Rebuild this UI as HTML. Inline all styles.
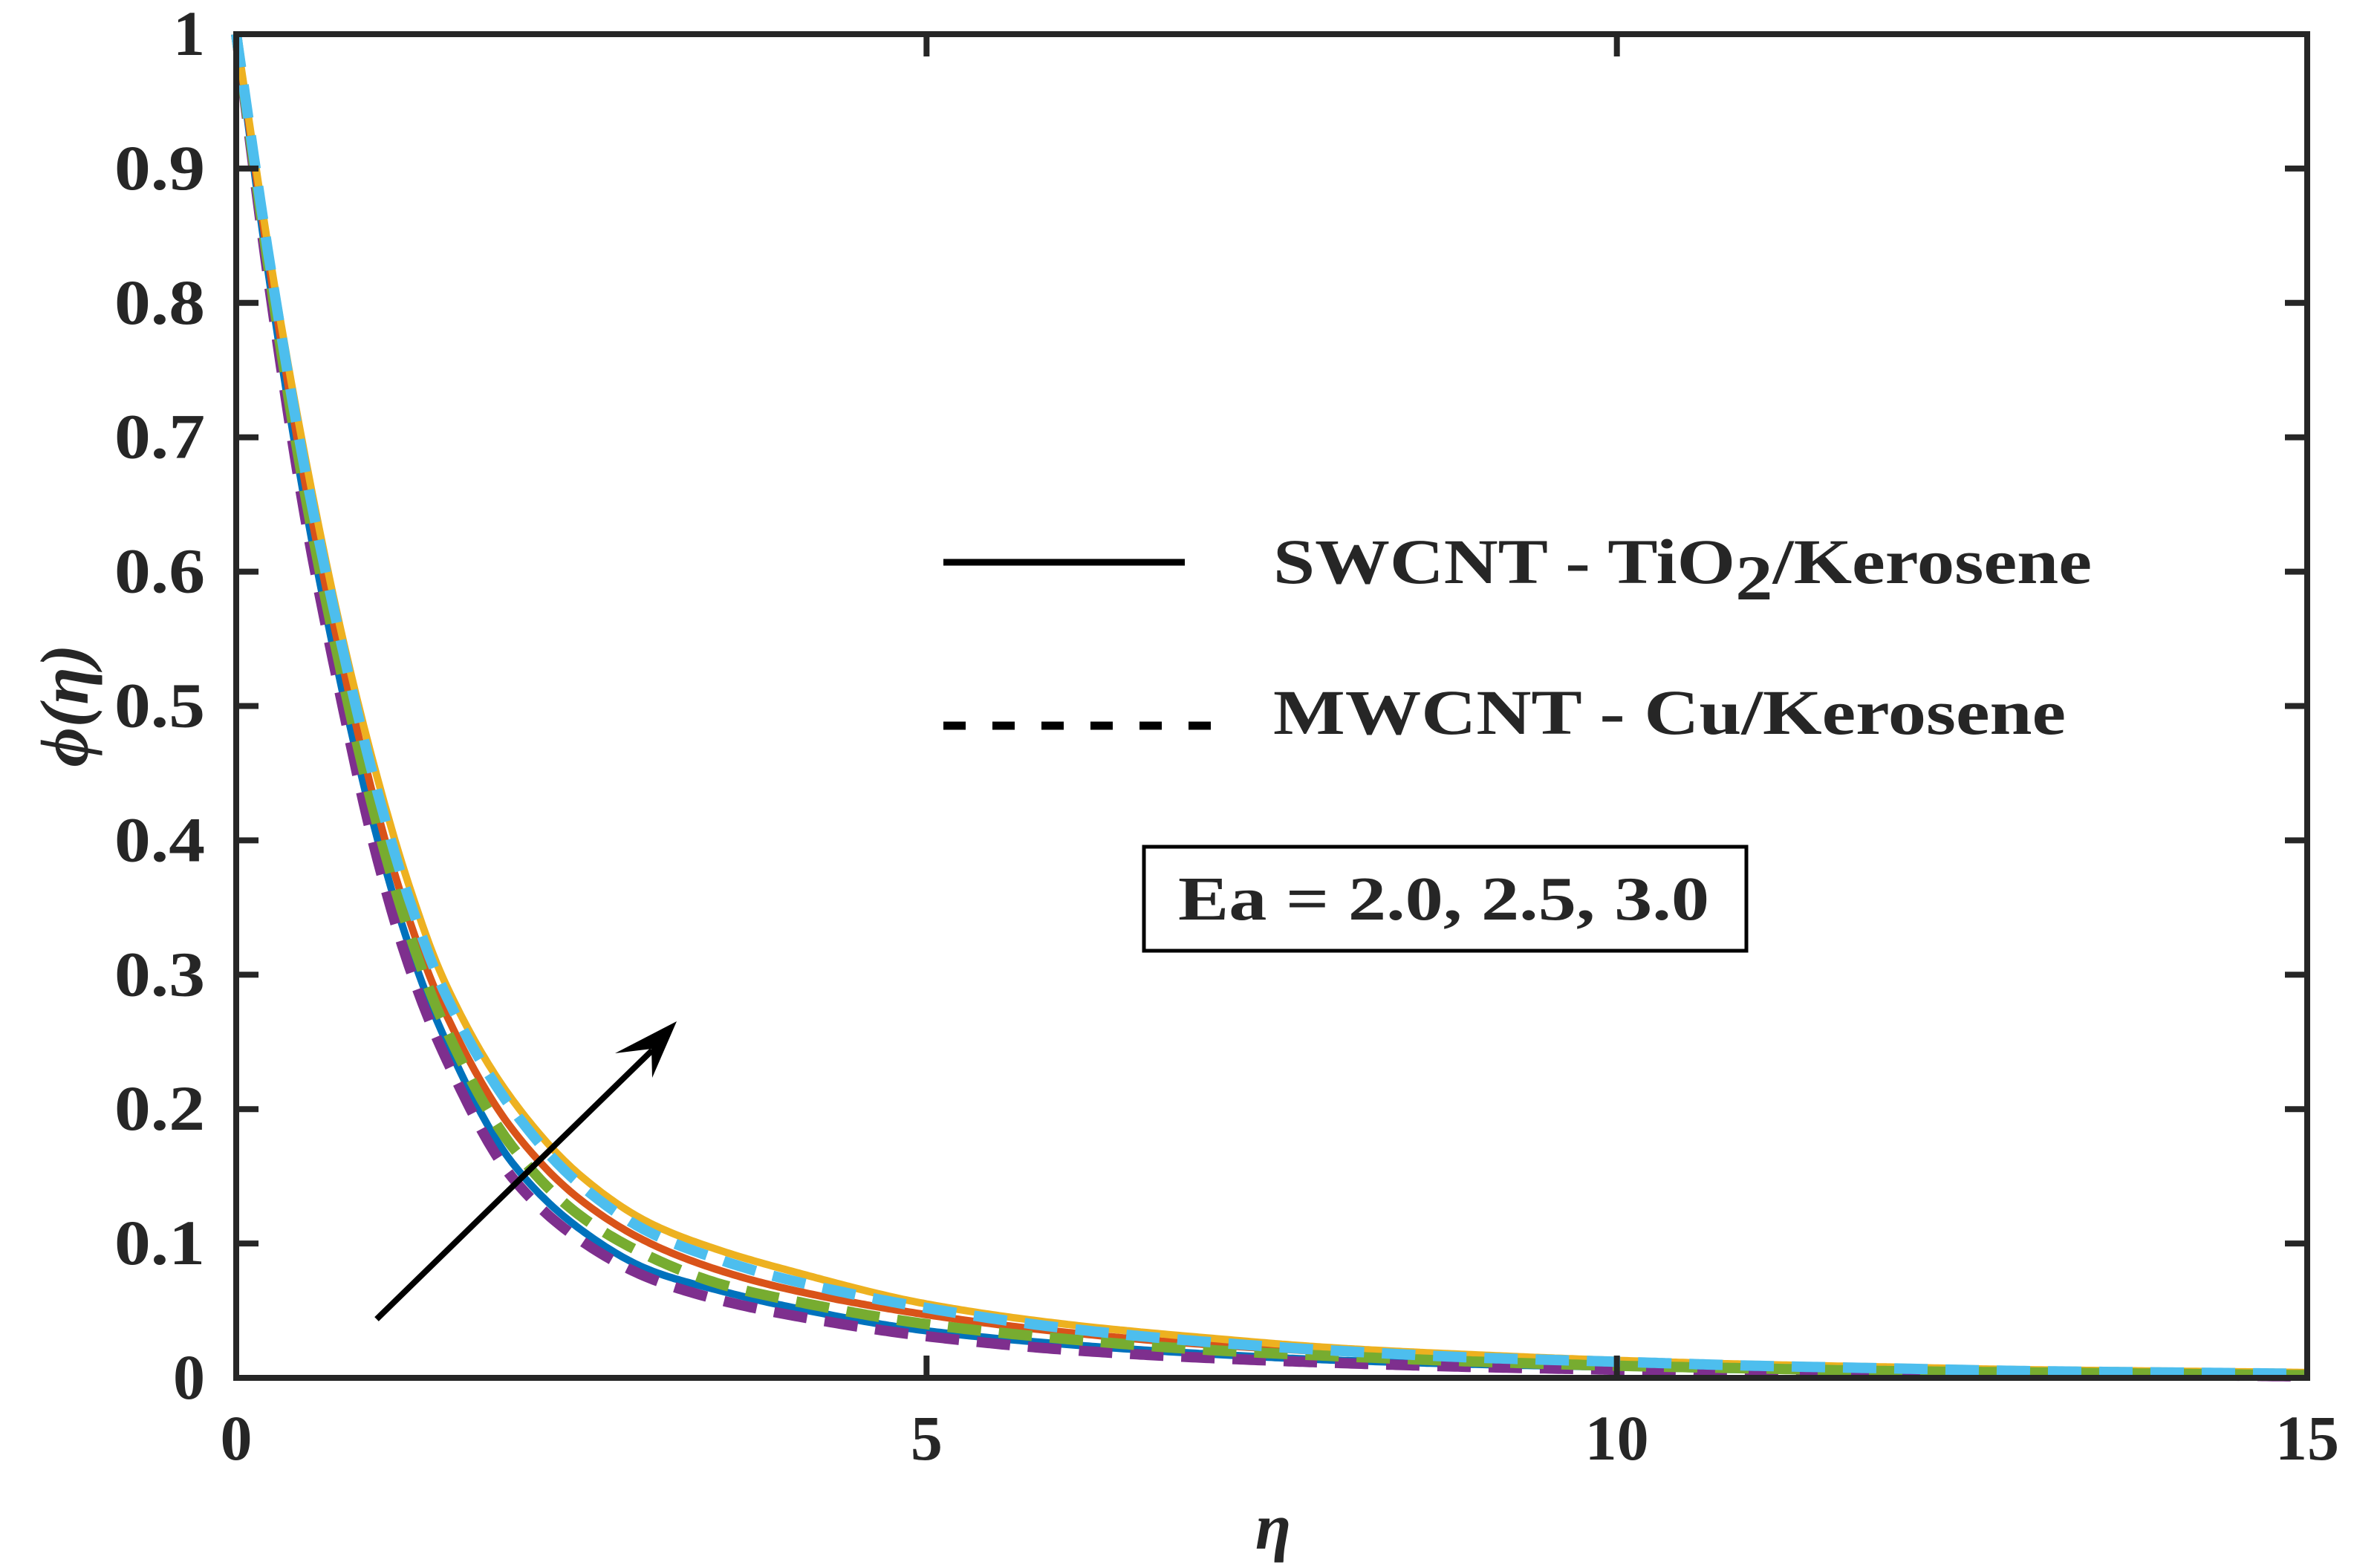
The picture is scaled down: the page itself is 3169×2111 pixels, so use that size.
<!DOCTYPE html>
<html><head><meta charset="utf-8"><style>
html,body{margin:0;padding:0;background:#fff;}
svg{display:block;}
text{font-family:"Liberation Serif","Times New Roman",serif;font-weight:bold;fill:#262626;}
</style></head><body>
<svg id="chart" width="3169" height="2111" viewBox="0 0 3169 2111" xmlns="http://www.w3.org/2000/svg">
<rect width="3169" height="2111" fill="#fff"/>
<g id="series"></g>
<g id="axes"></g>
<g>
<line x1="1270" y1="757" x2="1595" y2="757" stroke="#000" stroke-width="9"/>
<text x="1714" y="785" font-size="86" textLength="1102" lengthAdjust="spacingAndGlyphs" fill="#000">SWCNT - TiO<tspan dy="22">2</tspan><tspan dy="-22">/Kerosene</tspan></text>
<line x1="1270" y1="977" x2="1635" y2="977" stroke="#000" stroke-width="11" stroke-dasharray="30 36"/>
<text x="1714" y="988" font-size="86" textLength="1067" lengthAdjust="spacingAndGlyphs" fill="#000">MWCNT - Cu/Kerosene</text>
</g>
<rect x="1540" y="1140" width="811" height="140" fill="#fff" stroke="#000" stroke-width="5"/>
<text x="1586" y="1238" font-size="84" textLength="715" lengthAdjust="spacingAndGlyphs" fill="#000">Ea = 2.0, 2.5, 3.0</text>
<g>
<line x1="507" y1="1776" x2="878" y2="1414" stroke="#000" stroke-width="8"/>
<polygon points="911,1375 828,1418 877,1412 878,1451" fill="#000"/>
</g>
<text x="1714" y="2085" font-size="88" font-style="italic" font-weight="normal" text-anchor="middle">η</text>
<text transform="translate(118,950) rotate(-90)" font-size="92" font-style="italic" font-weight="normal" text-anchor="middle">ϕ(η)</text>
</svg>
<script>
const etaGrid = [0,0.25,0.5,0.75,1,1.25,1.5,2,2.5,3,3.5,4,5,6,7,8,9,10,11,12,13,14,15];
const swcntEa20 = [1,0.81,0.65,0.52,0.41,0.322,0.255,0.16,0.11,0.08,0.065,0.053,0.035,0.025,0.018,0.013,0.01,0.008,0.006,0.005,0.004,0.003,0.002];
const swcntEa25 = [1,0.82,0.665,0.54,0.43,0.342,0.275,0.185,0.132,0.1,0.08,0.066,0.047,0.034,0.025,0.019,0.014,0.011,0.008,0.006,0.005,0.004,0.003];
const swcntEa30 = [1,0.83,0.685,0.56,0.455,0.367,0.297,0.207,0.15,0.115,0.095,0.08,0.055,0.04,0.03,0.022,0.017,0.013,0.01,0.008,0.006,0.005,0.004];
const mwcntEa20 = [1,0.805,0.64,0.51,0.395,0.307,0.242,0.149,0.102,0.074,0.058,0.047,0.031,0.021,0.015,0.011,0.008,0.006,0.004,0.003,0.002,0.002,0.001];
const mwcntEa25 = [1,0.815,0.657,0.53,0.42,0.332,0.264,0.172,0.12,0.09,0.07,0.058,0.04,0.029,0.021,0.016,0.012,0.009,0.007,0.005,0.004,0.003,0.002];
const mwcntEa30 = [1,0.825,0.675,0.552,0.445,0.357,0.289,0.2,0.143,0.108,0.088,0.073,0.052,0.037,0.027,0.02,0.015,0.012,0.009,0.007,0.005,0.004,0.003];
const xTicks = [0,5,10,15];
const yTicks = [0,0.1,0.2,0.3,0.4,0.5,0.6,0.7,0.8,0.9,1];
const yTickLabels = ["0","0.1","0.2","0.3","0.4","0.5","0.6","0.7","0.8","0.9","1"];
const xTickLabels = ["0","5","10","15"];

const X0=318,X1=3106,Y0=1855,Y1=46;
function sx(v){return X0+(v-0)/(15-0)*(X1-X0);}
function sy(v){return Y0-(v-0)/(1-0)*(Y0-Y1);}
const NS="http://www.w3.org/2000/svg";
const sg=document.getElementById('series');
const ag=document.getElementById('axes');

function monotone(xs,ys){
  const n=xs.length,d=[],m=new Array(n);
  for(let i=0;i<n-1;i++)d.push((ys[i+1]-ys[i])/(xs[i+1]-xs[i]));
  m[0]=d[0];m[n-1]=d[n-2];
  for(let i=1;i<n-1;i++){
    if(d[i-1]*d[i]<=0)m[i]=0;
    else{const h0=xs[i]-xs[i-1],h1=xs[i+1]-xs[i];const w1=2*h1+h0,w2=h1+2*h0;m[i]=(w1+w2)/(w1/d[i-1]+w2/d[i]);}
  }
  return function(x){
    let i=0;while(i<n-2&&x>xs[i+1])i++;
    const h=xs[i+1]-xs[i],t=(x-xs[i])/h,t2=t*t,t3=t2*t;
    return (2*t3-3*t2+1)*ys[i]+(t3-2*t2+t)*h*m[i]+(-2*t3+3*t2)*ys[i+1]+(t3-t2)*h*m[i+1];
  };
}
function pathFor(vals){
  const f=monotone(etaGrid,vals);
  let d='';
  for(let k=0;k<=600;k++){
    const e=15*k/600;
    d+=(k?' L':'M')+sx(e).toFixed(1)+','+sy(f(e)).toFixed(1);
  }
  return d;
}
const seriesDefs=[
 [swcntEa20,'#0072BD',false,'series-swcnt-ea-2-0'],
 [swcntEa25,'#D95319',false,'series-swcnt-ea-2-5'],
 [swcntEa30,'#EDB120',false,'series-swcnt-ea-3-0'],
 [mwcntEa20,'#7E2F8E',true,'series-mwcnt-ea-2-0'],
 [mwcntEa25,'#77AC30',true,'series-mwcnt-ea-2-5'],
 [mwcntEa30,'#4DBEEE',true,'series-mwcnt-ea-3-0']
];
seriesDefs.forEach(s=>{
  const p=document.createElementNS(NS,'path');
  p.setAttribute('d',pathFor(s[0]));
  p.setAttribute('fill','none');
  p.setAttribute('stroke',s[1]);
  p.setAttribute('stroke-width',s[2]?'14':'10');
  if(s[2]) p.setAttribute('stroke-dasharray','45 24');
  
  
  sg.appendChild(p);
});
const box=document.createElementNS(NS,'rect');
box.setAttribute('x',X0);box.setAttribute('y',Y1);box.setAttribute('width',X1-X0);box.setAttribute('height',Y0-Y1);
box.setAttribute('fill','none');box.setAttribute('stroke','#262626');box.setAttribute('stroke-width','8');


ag.appendChild(box);
yTicks.forEach((v,i)=>{
  const y=sy(v);
  [[X0,X0+30],[X1,X1-30]].forEach(a=>{
    const l=document.createElementNS(NS,'line');
    l.setAttribute('x1',a[0]);l.setAttribute('x2',a[1]);l.setAttribute('y1',y);l.setAttribute('y2',y);
    l.setAttribute('stroke','#262626');l.setAttribute('stroke-width','8');
    
    
    ag.appendChild(l);
  });
  const t=document.createElementNS(NS,'text');
  t.setAttribute('x',276);t.setAttribute('y',y+28);t.setAttribute('font-size','86');
  t.setAttribute('text-anchor','end');
  const lab=yTickLabels[i];
  if(lab.length>1){t.setAttribute('textLength','122');t.setAttribute('lengthAdjust','spacingAndGlyphs');}
  t.textContent=lab;
  
  
  ag.appendChild(t);
});
xTicks.forEach((v,i)=>{
  const x=sx(v);
  [[Y0,Y0-30],[Y1,Y1+30]].forEach(a=>{
    const l=document.createElementNS(NS,'line');
    l.setAttribute('x1',x);l.setAttribute('x2',x);l.setAttribute('y1',a[0]);l.setAttribute('y2',a[1]);
    l.setAttribute('stroke','#262626');l.setAttribute('stroke-width','8');
    
    
    ag.appendChild(l);
  });
  const t=document.createElementNS(NS,'text');
  t.setAttribute('x',x);t.setAttribute('y',1965);t.setAttribute('font-size','86');
  t.setAttribute('text-anchor','middle');
  t.textContent=xTickLabels[i];
  
  
  ag.appendChild(t);
});
</script>
</body></html>
